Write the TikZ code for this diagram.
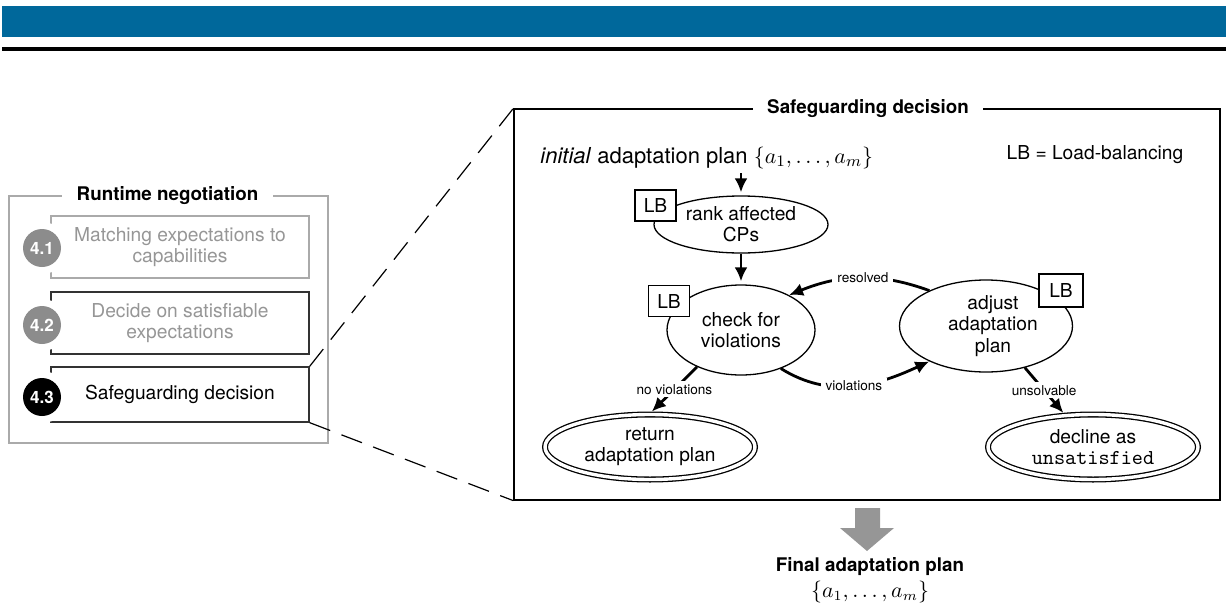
\documentclass[tikz,border=0pt]{standalone}
\usepackage{fontspec}
\setmainfont{TeX Gyre Heros}
\usetikzlibrary{shapes.geometric,arrows.meta}
\definecolor{bandblue}{RGB}{0,104,155}
\definecolor{lgray}{RGB}{170,170,170}
\definecolor{tgray}{RGB}{150,150,150}
\definecolor{cgray}{RGB}{140,140,140}
\definecolor{dgray}{RGB}{50,50,50}
\definecolor{agray}{RGB}{150,150,150}
\begin{document}
\begin{tikzpicture}[x=0.5pt,y=0.5pt,
  every node/.style={font=\fontsize{9.6}{10.6}\selectfont, inner sep=0pt},
  proc/.style={ellipse, draw, line width=0.65pt, inner sep=0pt, align=center},
  lbbox/.style={draw, fill=white, line width=0.6pt, minimum width=20.5pt, minimum height=15.5pt},
  fin/.style={ellipse, draw, line width=0.65pt, double, double distance=1.7pt, inner sep=0pt,
    outer sep=1.5pt, minimum width=105pt, minimum height=32.5pt, align=center},
  arr/.style={line width=1.4pt, -{Latex[length=7pt,width=6.5pt]}},
  lbl/.style={font=\fontsize{6.8}{8}\selectfont, fill=white, inner xsep=2.5pt, inner ysep=1.5pt},
  stepcirc/.style={circle, minimum size=19pt, text=white, font=\fontsize{8.5}{9}\selectfont\bfseries,
    preaction={draw=white, line width=7pt}},
  panelbox/.style={minimum width=129pt, align=center, line width=0.65pt},
  ttl/.style={font=\fontsize{9.4}{10}\selectfont\bfseries, fill=white, minimum height=10pt}
]
\useasboundingbox (0,0) rectangle (1226,-605);

% header band
\fill[bandblue] (2,-6) rectangle (1226,-37);
\fill[black] (2,-47) rectangle (1226,-51);

% runtime negotiation panel
\node[draw=lgray, line width=0.65pt, minimum width=159.5pt, minimum height=123.5pt] (rt) at (168.5,-319.5) {};
\node[ttl, minimum width=105.5pt] (rttitle) at (167.5,-196) {Runtime negotiation};

\node[panelbox, draw=lgray, text=tgray, minimum height=31pt] (b1) at (180,-247)
  {Matching expectations to\\capabilities};
\node[panelbox, draw=dgray, text=tgray, minimum height=31pt] (b2) at (180,-323)
  {Decide on satisfiable\\expectations};
\node[panelbox, draw=dgray, text=black, minimum height=27.5pt] (b3) at (180,-394.5)
  {Safeguarding decision};

\node[stepcirc, fill=cgray] (c1) at (42,-248) {4.1};
\node[stepcirc, fill=cgray] (c2) at (42,-325) {4.2};
\node[stepcirc, fill=black] (c3) at (42,-397) {4.3};

% main box
\node[draw, line width=0.65pt, minimum width=353pt, minimum height=195.5pt] (main) at (867,-304.5) {};
\node[ttl, minimum width=115pt] (maintitle) at (868,-109) {Safeguarding decision};

% zoom lines
\draw[line width=0.6pt, dash pattern=on 11pt off 6pt] (b3.north east) -- (main.north west);
\draw[line width=0.6pt, dash pattern=on 11pt off 6pt] (b3.south east) -- (main.south west);

% content
\node[anchor=west, font=\fontsize{11}{12}\selectfont] (init) at (540,-158)
  {\textit{initial} adaptation plan $\{a_1,\ldots,a_m\}$};
\node (legend) at (1095,-155) {LB = Load-balancing};

\node[proc, minimum width=87pt, minimum height=28.5pt] (rank) at (741,-224.5) {rank affected\\CPs};
\node[lbbox] (lb1) at (655.5,-205.5) {LB};

\node[proc, minimum width=74pt, minimum height=45pt] (chk) at (741,-330) {check for\\violations};
\node[lbbox] (lb2) at (669,-301) {LB};

\node[proc, minimum width=86.5pt, minimum height=46pt] (adj) at (986,-326) {\hspace*{7pt}adjust\\\hspace*{7pt}adaptation\\\hspace*{7pt}plan};
\node[lbbox, minimum width=22pt, minimum height=16.5pt] (lb3) at (1061,-290.5) {LB};

\node[fin] (ret) at (650,-447) {return\\adaptation plan};
\node[fin] (dec) at (1093,-447) {decline as\\{\fontsize{10.6}{11}\selectfont\ttfamily unsatisfied}};

% arrows
\draw[arr, shorten <=2pt, shorten >=1.5pt] (init.south -| rank.north) -- (rank.north);
\draw[arr, shorten >=1.5pt] (rank.south) -- (chk.north);
\draw[arr] (adj.148) to[out=160, in=22] node[lbl, pos=0.47] {resolved} (chk.36);
\draw[arr] (chk.-44) to[out=-32, in=205] node[lbl, pos=0.5] {violations} (adj.212);
\draw[arr] (chk.220) -- node[lbl] {no violations} (ret.87);
\draw[arr] (adj.-47) -- node[lbl] {unsolvable} (dec.131);

% result arrow
\fill[agray] (855,-508) -- (880,-508) -- (880,-528) -- (894,-528) -- (867,-551) -- (840,-528) -- (855,-528) -- cycle;
\node[font=\fontsize{9.4}{10}\selectfont\bfseries] (final) at (870,-567) {Final adaptation plan};
\node[font=\fontsize{10.5}{12}\selectfont] (finset) at (870,-592) {$\{a_1,\ldots,a_m\}$};
\end{tikzpicture}
\end{document}
